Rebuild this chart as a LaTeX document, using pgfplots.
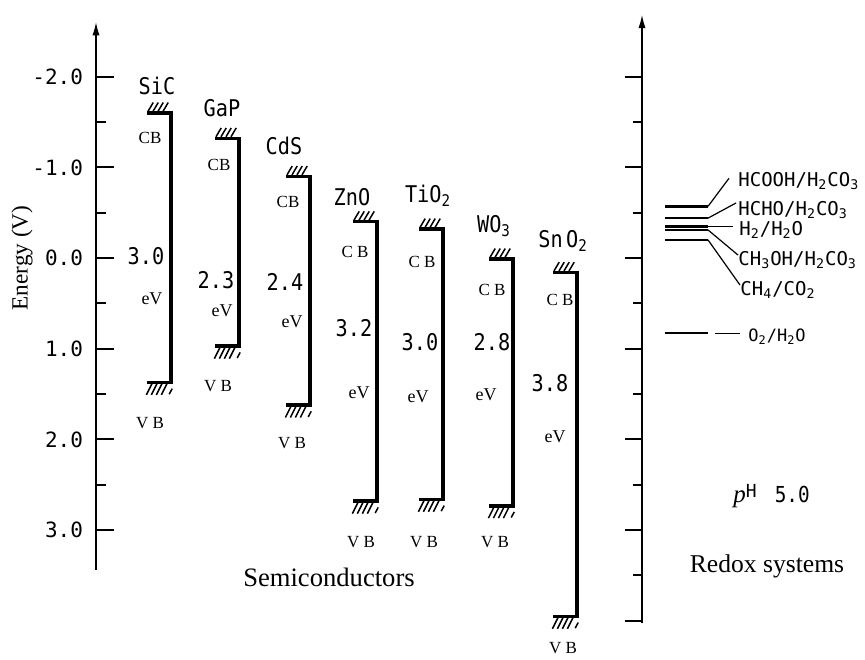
\documentclass[border=0pt]{standalone}
\usepackage{fontspec}
\setmainfont{Liberation Serif}
\newfontfamily\lett{DejaVu Sans Mono}
\usepackage{pgfplots}
\pgfplotsset{compat=1.18}
\usetikzlibrary{arrows.meta}
\newcommand{\fs}[1]{\fontsize{#1}{#1}\selectfont}
\newcommand{\sub}[1]{\textsubscript{#1}}
\newcommand{\nar}[1]{\scalebox{0.88}[1]{#1}}
% hatches above a conduction band edge (corner at right end)
\newcommand{\cbh}[2]{\draw[line width=0.75pt] (axis cs:#1,#2)
  +(-11.5pt,0.8pt) -- +(-8.9pt,5.2pt)
  +(-9.0pt,0.8pt) -- +(-6.4pt,5.2pt)
  +(-6.5pt,0.8pt) -- +(-3.9pt,5.2pt)
  +(-4.0pt,0.8pt) -- +(-1.4pt,5.2pt);}
% hatches below a valence band edge
\newcommand{\vbh}[2]{\draw[line width=0.75pt] (axis cs:#1,#2)
  +(-9.5pt,-0.7pt) -- +(-12.3pt,-6.3pt)
  +(-7.0pt,-0.7pt) -- +(-9.8pt,-6.3pt)
  +(-4.5pt,-0.7pt) -- +(-7.3pt,-6.3pt)
  +(-2.0pt,-0.7pt) -- +(-4.8pt,-6.3pt)
  +(0.6pt,-3.2pt) -- +(-0.9pt,-6.0pt);}
\begin{document}
\begin{tikzpicture}
\begin{axis}[
  scale only axis, width=384.5pt, height=267.0pt,
  xmin=96, xmax=865, ymin=-2.45, ymax=3.44, y dir=reverse,
  axis x line=none, axis y line=left,
  y axis line style={-, line width=1pt},
  ytick={-2,-1,0,1,2,3}, yticklabels={-2.0,-1.0,0.0,1.0,2.0,3.0},
  minor ytick={-1.5,-0.5,0.5,1.5,2.5},
  tick align=inside, major tick length=9pt, minor tick length=5pt,
  every tick/.style={black, line width=1pt},
  yticklabel style={font=\lett\fs{10.5}, xshift=-3pt, /pgf/number format/assume math mode=true},
  clip=false,
]
% left axis arrow
\draw[line width=1pt,-{Latex[length=7pt,width=3.6pt]}] (axis cs:96,-2.40) -- (axis cs:96,-2.61);
% right axis
\draw[line width=1pt,-{Latex[length=7pt,width=3.6pt]}] (axis cs:642,4.03) -- (axis cs:642,-2.69);
\pgfplotsinvokeforeach{-2,-1,0,1,2,3,4}{\draw[line width=1pt] (axis cs:642,#1) -- ++(-8.5pt,0pt);}
\pgfplotsinvokeforeach{-1.5,-0.5,0.5,1.5,2.5,3.5}{\draw[line width=1pt] (axis cs:642,#1) -- ++(-4.5pt,0pt);}

% ---- semiconductor bands: (CB edge) -> (VB edge)
\addplot[line width=1.6pt, line join=miter] coordinates {(147,-1.60) (171,-1.60) (171,1.37) (147,1.37)};
\addplot[line width=1.6pt, line join=miter] coordinates {(215,-1.32) (239,-1.32) (239,0.97) (215,0.97)};
\addplot[line width=1.6pt, line join=miter] coordinates {(286,-0.90) (310,-0.90) (310,1.62) (286,1.62)};
\addplot[line width=1.6pt, line join=miter] coordinates {(353,-0.40) (377,-0.40) (377,2.68) (353,2.68)};
\addplot[line width=1.6pt, line join=miter] coordinates {(419,-0.32) (443,-0.32) (443,2.66) (419,2.66)};
\addplot[line width=2.0pt, line join=miter] coordinates {(489,0.01) (513,0.01) (513,2.73) (489,2.73)};
\addplot[line width=1.6pt, line join=miter] coordinates {(553,0.16) (577,0.16) (577,3.95) (553,3.95)};
\cbh{171}{-1.60}\vbh{171}{1.37}
\cbh{239}{-1.32}\vbh{239}{0.97}
\cbh{310}{-0.90}\vbh{310}{1.62}
\cbh{377}{-0.40}\vbh{377}{2.68}
\cbh{443}{-0.32}\vbh{443}{2.66}
\cbh{513}{0.01}\vbh{513}{2.73}
\cbh{577}{0.16}\vbh{577}{3.95}

% names
\node[font=\lett\fs{11.5}] at (axis cs:157,-1.897) {\nar{SiC}};
\node[font=\lett\fs{11.5}] at (axis cs:222,-1.655) {\nar{GaP}};
\node[font=\lett\fs{11.5}] at (axis cs:284,-1.235) {\nar{CdS}};
\node[font=\lett\fs{11.5}] at (axis cs:352,-0.673) {\nar{ZnO}};
\node[font=\lett\fs{11.5}] at (axis cs:428,-0.690) {\nar{TiO\sub{2}}};
\node[font=\lett\fs{11.5}] at (axis cs:494,-0.350) {\nar{WO\sub{3}}};
\node[font=\lett\fs{11.5}] at (axis cs:563,-0.185) {\nar{Sn\,O\sub{2}}};
% CB labels
\node[font=\fs{8.5}] at (axis cs:150,-1.324) {CB};
\node[font=\fs{8.5}] at (axis cs:219,-1.026) {CB};
\node[font=\fs{8.5}] at (axis cs:288,-0.618) {CB};
\node[font=\fs{8.5}] at (axis cs:355,-0.066) {C B};
\node[font=\fs{8.5}] at (axis cs:422,0.044) {C B};
\node[font=\fs{8.5}] at (axis cs:492,0.353) {C B};
\node[font=\fs{8.5}] at (axis cs:560,0.463) {C B};
% gaps
\node[font=\lett\fs{11.5}] at (axis cs:146,-0.022) {\nar{3.0}};
\node[font=\lett\fs{11.5}] at (axis cs:216,0.243) {\nar{2.3}};
\node[font=\lett\fs{11.5}] at (axis cs:285,0.265) {\nar{2.4}};
\node[font=\lett\fs{11.5}] at (axis cs:354,0.772) {\nar{3.2}};
\node[font=\lett\fs{11.5}] at (axis cs:420,0.927) {\nar{3.0}};
\node[font=\lett\fs{11.5}] at (axis cs:492,0.927) {\nar{2.8}};
\node[font=\lett\fs{11.5}] at (axis cs:550,1.379) {\nar{3.8}};
% eV
\node[font=\fs{9}] at (axis cs:152,0.452) {eV};
\node[font=\fs{9}] at (axis cs:222,0.585) {eV};
\node[font=\fs{9}] at (axis cs:292,0.706) {eV};
\node[font=\fs{9}] at (axis cs:359,1.489) {eV};
\node[font=\fs{9}] at (axis cs:418,1.533) {eV};
\node[font=\fs{9}] at (axis cs:486,1.511) {eV};
\node[font=\fs{9}] at (axis cs:555,1.974) {eV};
% VB
\node[font=\fs{8.5}] at (axis cs:150,1.820) {V B};
\node[font=\fs{8.5}] at (axis cs:218,1.412) {V B};
\node[font=\fs{8.5}] at (axis cs:292,2.041) {V B};
\node[font=\fs{8.5}] at (axis cs:361,3.133) {V B};
\node[font=\fs{8.5}] at (axis cs:424,3.133) {V B};
\node[font=\fs{8.5}] at (axis cs:495,3.133) {V B};
\node[font=\fs{8.5}, inner sep=0pt] at (axis cs:563,4.30) {V B};

% ---- redox levels
\addplot[line width=1.2pt] coordinates {(665,-0.57) (708,-0.57)};
\addplot[line width=1.2pt] coordinates {(665,-0.44) (708,-0.44)};
\addplot[line width=1.2pt] coordinates {(665,-0.35) (708,-0.35)};
\addplot[line width=1.2pt] coordinates {(665,-0.31) (708,-0.31)};
\addplot[line width=1.2pt] coordinates {(665,-0.20) (708,-0.20)};
\addplot[line width=1.2pt] coordinates {(665,0.83) (708,0.83)};
\addplot[line width=0.6pt] coordinates {(708,-0.57) (729,-0.88)};
\addplot[line width=0.6pt] coordinates {(708,-0.44) (736,-0.607)};
\addplot[line width=0.6pt] coordinates {(708,-0.35) (733,-0.35)};
\addplot[line width=0.6pt] coordinates {(708,-0.31) (738,-0.033)};
\addplot[line width=0.6pt] coordinates {(708,-0.20) (740,0.298)};
\addplot[line width=0.7pt] coordinates {(715,0.83) (740,0.83)};
\node[font=\lett\fs{9.5}, anchor=west, inner sep=0pt] at (axis cs:738,-0.849) {HCOOH/H\sub{2}CO\sub{3}};
\node[font=\lett\fs{9.5}, anchor=west, inner sep=0pt] at (axis cs:738,-0.529) {HCHO/H\sub{2}CO\sub{3}};
\node[font=\lett\fs{9.5}, anchor=west, inner sep=0pt] at (axis cs:739,-0.309) {H\sub{2}/H\sub{2}O};
\node[font=\lett\fs{9.5}, anchor=west, inner sep=0pt] at (axis cs:738,0.022) {CH\sub{3}OH/H\sub{2}CO\sub{3}};
\node[font=\lett\fs{9.5}, anchor=west, inner sep=0pt] at (axis cs:740,0.353) {CH\sub{4}/CO\sub{2}};
\node[font=\lett\fs{8.5}, anchor=west, inner sep=0pt] at (axis cs:748,0.871) {O\sub{2}/H\sub{2}O};
\node[anchor=west, inner sep=0pt] at (axis cs:733,2.625) {{\fs{12.5}\itshape p}\raisebox{2.5pt}{\lett\fs{9}H}\hspace{9pt}{\lett\fs{11}\nar{5.0}}};

% axis titles
\node[font=\fs{11.6}, rotate=90] at (axis cs:22,0) {Energy (V)};
\node[font=\fs{13.3}] at (axis cs:329,3.519) {Semiconductors};
\node[font=\fs{12.8}] at (axis cs:767,3.397) {Redox systems};

\coordinate (BL) at (axis cs:0,4.423);
\coordinate (TR) at (axis cs:865,-2.846);
\end{axis}
\pgfresetboundingbox
\path (BL) rectangle (TR);
\end{tikzpicture}
\end{document}
